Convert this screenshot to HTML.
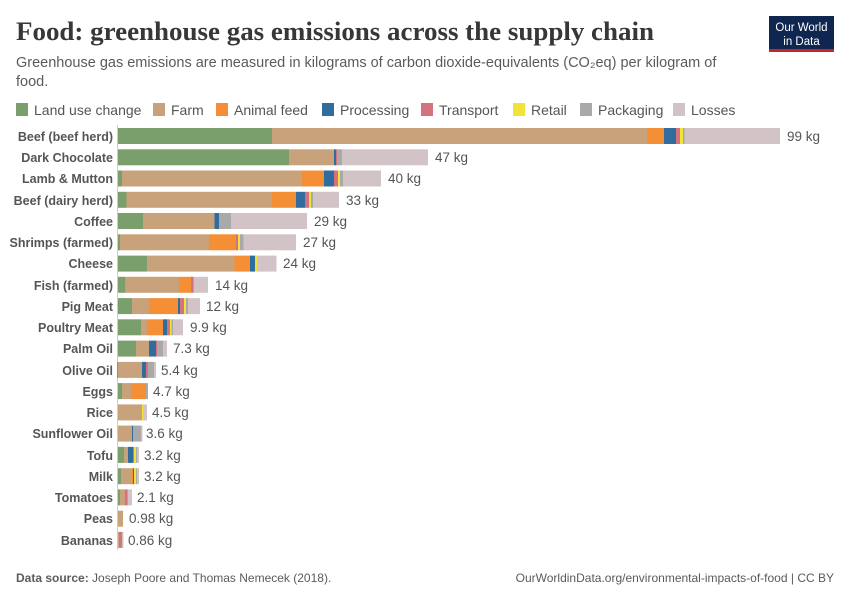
<!DOCTYPE html>
<html><head><meta charset="utf-8"><style>
body{margin:0;background:#fff;}
svg{display:block;font-family:"Liberation Sans",sans-serif;}
</style></head><body>
<svg width="850" height="600" xmlns="http://www.w3.org/2000/svg">
<rect width="850" height="600" fill="#fff"/>
<text x="16" y="40" font-family="Liberation Serif,serif" font-size="26" font-weight="bold" fill="#373737" textLength="638" lengthAdjust="spacingAndGlyphs">Food: greenhouse gas emissions across the supply chain</text>
<text x="16" y="67" font-size="14.5" fill="#5b5b5b">Greenhouse gas emissions are measured in kilograms of carbon dioxide-equivalents (CO₂eq) per kilogram of</text>
<text x="16" y="86" font-size="14.5" fill="#5b5b5b">food.</text>
<rect x="769" y="16" width="65" height="34" fill="#0f2750"/>
<rect x="769" y="49" width="65" height="3" fill="#c0282f"/>
<text x="801.5" y="31" font-size="11.5" fill="#fff" text-anchor="middle">Our World</text>
<text x="801.5" y="45" font-size="11.5" fill="#fff" text-anchor="middle">in Data</text>
<g font-size="14" fill="#555">
<rect x="16" y="103" width="12" height="13" fill="#7a9e6c"/><text x="34" y="115">Land use change</text>
<rect x="153" y="103" width="12" height="13" fill="#c8a27a"/><text x="171" y="115">Farm</text>
<rect x="216" y="103" width="12" height="13" fill="#f58f36"/><text x="234" y="115">Animal feed</text>
<rect x="322" y="103" width="12" height="13" fill="#316d9c"/><text x="340" y="115">Processing</text>
<rect x="421" y="103" width="12" height="13" fill="#d4737f"/><text x="439" y="115">Transport</text>
<rect x="513" y="103" width="12" height="13" fill="#f2e33a"/><text x="531" y="115">Retail</text>
<rect x="580" y="103" width="12" height="13" fill="#a9a9aa"/><text x="598" y="115">Packaging</text>
<rect x="673" y="103" width="12" height="13" fill="#d2c4c6"/><text x="691" y="115">Losses</text>
</g>
<line x1="117.5" y1="125" x2="117.5" y2="550" stroke="#ccc"/>
<g font-size="12.5" font-weight="bold" fill="#555" text-anchor="end">
<text x="113" y="141">Beef (beef herd)</text>
<text x="113" y="162">Dark Chocolate</text>
<text x="113" y="183">Lamb &amp; Mutton</text>
<text x="113" y="205">Beef (dairy herd)</text>
<text x="113" y="226">Coffee</text>
<text x="113" y="247">Shrimps (farmed)</text>
<text x="113" y="268">Cheese</text>
<text x="113" y="290">Fish (farmed)</text>
<text x="113" y="311">Pig Meat</text>
<text x="113" y="332">Poultry Meat</text>
<text x="113" y="353">Palm Oil</text>
<text x="113" y="375">Olive Oil</text>
<text x="113" y="396">Eggs</text>
<text x="113" y="417">Rice</text>
<text x="113" y="438">Sunflower Oil</text>
<text x="113" y="460">Tofu</text>
<text x="113" y="481">Milk</text>
<text x="113" y="502">Tomatoes</text>
<text x="113" y="523">Peas</text>
<text x="113" y="545">Bananas</text>
</g>
<g>
<g transform="translate(0,128)">
<rect x="118" width="154" height="16" fill="#7a9e6c"/><rect x="272" width="375" height="16" fill="#c8a27a"/><rect x="647" width="17" height="16" fill="#f58f36"/><rect x="664" width="12" height="16" fill="#316d9c"/><rect x="676" width="4" height="16" fill="#d4737f"/><rect x="680" width="3" height="16" fill="#f2e33a"/><rect x="683" width="1.5" height="16" fill="#a9a9aa"/><rect x="684.5" width="95.5" height="16" fill="#d2c4c6"/></g>
<g transform="translate(0,149.3)">
<rect x="118" width="171" height="16" fill="#7a9e6c"/><rect x="289" width="45" height="16" fill="#c8a27a"/><rect x="334" width="2" height="16" fill="#316d9c"/><rect x="336" width="1" height="16" fill="#d4737f"/><rect x="337" width="5" height="16" fill="#a9a9aa"/><rect x="342" width="86" height="16" fill="#d2c4c6"/></g>
<g transform="translate(0,170.5)">
<rect x="118" width="4" height="16" fill="#7a9e6c"/><rect x="122" width="180" height="16" fill="#c8a27a"/><rect x="302" width="22" height="16" fill="#f58f36"/><rect x="324" width="10" height="16" fill="#316d9c"/><rect x="334" width="4" height="16" fill="#d4737f"/><rect x="338" width="2" height="16" fill="#f2e33a"/><rect x="340" width="3" height="16" fill="#a9a9aa"/><rect x="343" width="38" height="16" fill="#d2c4c6"/></g>
<g transform="translate(0,191.8)">
<rect x="118" width="8.5" height="16" fill="#7a9e6c"/><rect x="126.5" width="145.5" height="16" fill="#c8a27a"/><rect x="272" width="24" height="16" fill="#f58f36"/><rect x="296" width="9" height="16" fill="#316d9c"/><rect x="305" width="4" height="16" fill="#d4737f"/><rect x="309" width="2" height="16" fill="#f2e33a"/><rect x="311" width="2" height="16" fill="#a9a9aa"/><rect x="313" width="26" height="16" fill="#d2c4c6"/></g>
<g transform="translate(0,213)">
<rect x="118" width="25" height="16" fill="#7a9e6c"/><rect x="143" width="71.5" height="16" fill="#c8a27a"/><rect x="214.5" width="4.5" height="16" fill="#316d9c"/><rect x="219" width="12" height="16" fill="#a9a9aa"/><rect x="231" width="76" height="16" fill="#d2c4c6"/></g>
<g transform="translate(0,234.3)">
<rect x="118" width="2" height="16" fill="#7a9e6c"/><rect x="120" width="89" height="16" fill="#c8a27a"/><rect x="209" width="27" height="16" fill="#f58f36"/><rect x="236" width="2" height="16" fill="#d4737f"/><rect x="238" width="2" height="16" fill="#f2e33a"/><rect x="240" width="3.5" height="16" fill="#a9a9aa"/><rect x="243.5" width="52.5" height="16" fill="#d2c4c6"/></g>
<g transform="translate(0,255.6)">
<rect x="118" width="29" height="16" fill="#7a9e6c"/><rect x="147" width="87.5" height="16" fill="#c8a27a"/><rect x="234.5" width="15.5" height="16" fill="#f58f36"/><rect x="250" width="5" height="16" fill="#316d9c"/><rect x="255" width="2" height="16" fill="#f2e33a"/><rect x="257" width="19.5" height="16" fill="#d2c4c6"/></g>
<g transform="translate(0,276.8)">
<rect x="118" width="7.7" height="16" fill="#7a9e6c"/><rect x="125.7" width="53.3" height="16" fill="#c8a27a"/><rect x="179" width="12" height="16" fill="#f58f36"/><rect x="191" width="2" height="16" fill="#d4737f"/><rect x="193" width="1" height="16" fill="#a9a9aa"/><rect x="194" width="14" height="16" fill="#d2c4c6"/></g>
<g transform="translate(0,298.1)">
<rect x="118" width="14" height="16" fill="#7a9e6c"/><rect x="132" width="17" height="16" fill="#c8a27a"/><rect x="149" width="29" height="16" fill="#f58f36"/><rect x="178" width="2" height="16" fill="#316d9c"/><rect x="180" width="4" height="16" fill="#d4737f"/><rect x="184" width="2" height="16" fill="#f2e33a"/><rect x="186" width="2" height="16" fill="#a9a9aa"/><rect x="188" width="12" height="16" fill="#d2c4c6"/></g>
<g transform="translate(0,319.3)">
<rect x="118" width="23" height="16" fill="#7a9e6c"/><rect x="141" width="6" height="16" fill="#c8a27a"/><rect x="147" width="16" height="16" fill="#f58f36"/><rect x="163" width="4" height="16" fill="#316d9c"/><rect x="167" width="3" height="16" fill="#d4737f"/><rect x="170" width="1.5" height="16" fill="#f2e33a"/><rect x="171.5" width="1.5" height="16" fill="#a9a9aa"/><rect x="173" width="10" height="16" fill="#d2c4c6"/></g>
<g transform="translate(0,340.6)">
<rect x="118" width="18" height="16" fill="#7a9e6c"/><rect x="136" width="13" height="16" fill="#c8a27a"/><rect x="149" width="7" height="16" fill="#316d9c"/><rect x="156" width="1" height="16" fill="#d4737f"/><rect x="157" width="6" height="16" fill="#a9a9aa"/><rect x="163" width="4" height="16" fill="#d2c4c6"/></g>
<g transform="translate(0,361.9)">
<rect x="117" width="1" height="16" fill="#7a9e6c"/><rect x="118" width="24" height="16" fill="#c8a27a"/><rect x="142" width="4" height="16" fill="#316d9c"/><rect x="146" width="2" height="16" fill="#d4737f"/><rect x="148" width="6" height="16" fill="#a9a9aa"/><rect x="154" width="2" height="16" fill="#d2c4c6"/></g>
<g transform="translate(0,383.1)">
<rect x="118" width="4" height="16" fill="#7a9e6c"/><rect x="122" width="9" height="16" fill="#c8a27a"/><rect x="131" width="15" height="16" fill="#f58f36"/><rect x="146" width="2" height="16" fill="#a9a9aa"/></g>
<g transform="translate(0,404.4)">
<rect x="118" width="24" height="16" fill="#c8a27a"/><rect x="142" width="1" height="16" fill="#f2e33a"/><rect x="143" width="4" height="16" fill="#d2c4c6"/></g>
<g transform="translate(0,425.6)">
<rect x="118" width="14" height="16" fill="#c8a27a"/><rect x="132" width="1" height="16" fill="#316d9c"/><rect x="133" width="8" height="16" fill="#a9a9aa"/><rect x="141" width="1.5" height="16" fill="#d2c4c6"/></g>
<g transform="translate(0,446.9)">
<rect x="118" width="6" height="16" fill="#7a9e6c"/><rect x="124" width="4" height="16" fill="#c8a27a"/><rect x="128" width="5" height="16" fill="#316d9c"/><rect x="133" width="1" height="16" fill="#d4737f"/><rect x="134" width="2" height="16" fill="#f2e33a"/><rect x="136" width="1" height="16" fill="#a9a9aa"/><rect x="137" width="2" height="16" fill="#d2c4c6"/></g>
<g transform="translate(0,468.2)">
<rect x="118" width="3" height="16" fill="#7a9e6c"/><rect x="121" width="11" height="16" fill="#c8a27a"/><rect x="132" width="1" height="16" fill="#f58f36"/><rect x="133" width="1" height="16" fill="#316d9c"/><rect x="134" width="2" height="16" fill="#f2e33a"/><rect x="136" width="1" height="16" fill="#a9a9aa"/><rect x="137" width="2" height="16" fill="#d2c4c6"/></g>
<g transform="translate(0,489.4)">
<rect x="118" width="2" height="16" fill="#7a9e6c"/><rect x="120" width="5" height="16" fill="#c8a27a"/><rect x="125" width="2" height="16" fill="#d4737f"/><rect x="127" width="1" height="16" fill="#a9a9aa"/><rect x="128" width="4" height="16" fill="#d2c4c6"/></g>
<g transform="translate(0,510.7)">
<rect x="118" width="5" height="16" fill="#c8a27a"/></g>
<g transform="translate(0,531.9)">
<rect x="118" width="1" height="16" fill="#c8a27a"/><rect x="119" width="3" height="16" fill="#d4737f"/><rect x="122" width="1.5" height="16" fill="#d2c4c6"/></g>
</g>
<g font-size="13.5" fill="#555">
<text x="787" y="141">99 kg</text>
<text x="435" y="162">47 kg</text>
<text x="388" y="183">40 kg</text>
<text x="346" y="205">33 kg</text>
<text x="314" y="226">29 kg</text>
<text x="303" y="247">27 kg</text>
<text x="283" y="268">24 kg</text>
<text x="215" y="290">14 kg</text>
<text x="206" y="311">12 kg</text>
<text x="190" y="332">9.9 kg</text>
<text x="173" y="353">7.3 kg</text>
<text x="161" y="375">5.4 kg</text>
<text x="153" y="396">4.7 kg</text>
<text x="152" y="417">4.5 kg</text>
<text x="146" y="438">3.6 kg</text>
<text x="144" y="460">3.2 kg</text>
<text x="144" y="481">3.2 kg</text>
<text x="137" y="502">2.1 kg</text>
<text x="129" y="523">0.98 kg</text>
<text x="128" y="545">0.86 kg</text>
</g>
<text x="16" y="582" font-size="12" fill="#5b5b5b"><tspan font-weight="bold">Data source:</tspan> Joseph Poore and Thomas Nemecek (2018).</text>
<text x="834" y="582" font-size="12" fill="#5b5b5b" text-anchor="end">OurWorldinData.org/environmental-impacts-of-food | CC BY</text>
</svg>
</body></html>
